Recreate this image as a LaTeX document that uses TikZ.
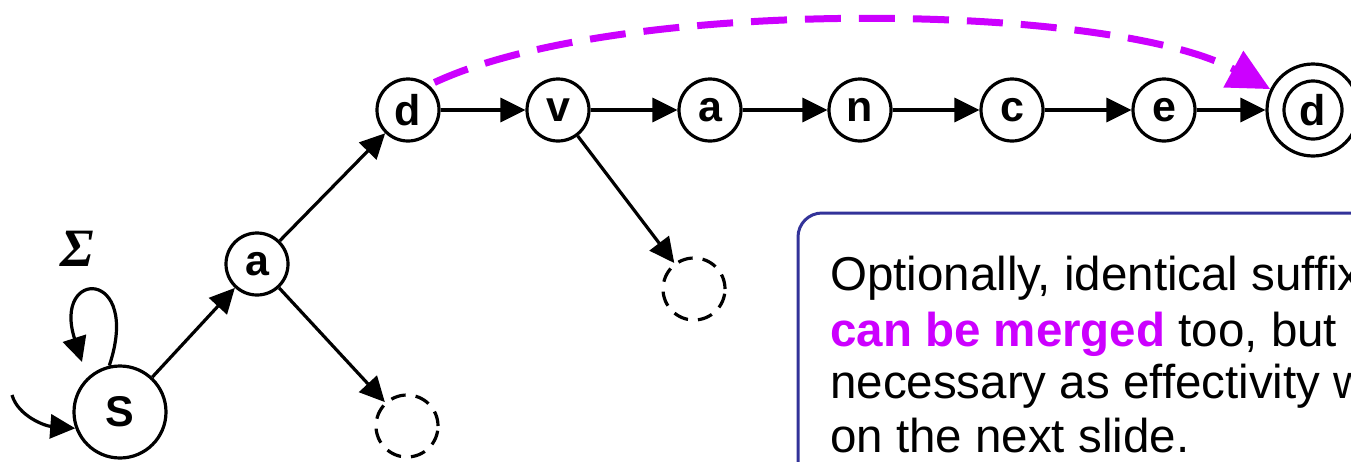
\documentclass[tikz,border=0pt]{standalone}
\usepackage{fontspec}
\setmainfont{Liberation Sans}
\newfontfamily\serifgreek{Liberation Serif}
\usetikzlibrary{arrows.meta}
\definecolor{purp}{RGB}{204,0,255}
\definecolor{boxblue}{RGB}{51,51,153}
\begin{document}
\begin{tikzpicture}[x=1pt,y=-1pt,
  st/.style={circle,draw,line width=3.2pt,minimum size=62pt,inner sep=0pt,font=\fontsize{43}{43}\selectfont\bfseries},
  big/.style={st,minimum size=92pt},
  ghost/.style={circle,draw,line width=3.2pt,dash pattern=on 15pt off 10pt,minimum size=62pt,inner sep=0pt},
  edge/.style={line width=3.2pt,-{Triangle[length=25pt,width=24pt]}},
  merge/.style={line width=7pt,purp,dash pattern=on 36pt off 18pt,-{Triangle[length=42pt,width=40pt]}},
  txt/.style={anchor=base west,inner sep=0pt,font=\fontsize{47.5}{54}\selectfont}
]
\useasboundingbox (0,0) rectangle (1351,461);
\clip (0,0) rectangle (1351,461);
\fill[white] (0,0) rectangle (1351,461);

% nodes
\node[big] (S) at (120,412) {S};
\node[st] (a1) at (257,264) {a};
\node[st] (d1) at (408,110) {d};
\node[st] (v) at (558,110) {v};
\node[st] (a2) at (710,110) {a};
\node[st] (n) at (860,110) {n};
\node[st] (c) at (1012,110) {c};
\node[st] (e) at (1164,110) {e};
\node[big] (df) at (1313,110) {d};
\draw[line width=3.2pt] (df.center) circle (29);
\node[ghost] (g1) at (407,426) {};
\node[ghost] (g2) at (694,289) {};
\node (sig) at (77,249) {\serifgreek\bfseries\itshape\fontsize{54}{54}\selectfont Σ};

\coordinate (init) at (12,395);
\coordinate (loopend) at (82,362);

% edges
\draw[edge] (init) .. controls (18,416) and (45,426) .. (S.200);
\draw[edge] (S.103) .. controls (142,268) and (52,268) .. (loopend);
\draw[edge] (S) -- (a1);
\draw[edge] (a1) -- (d1);
\draw[edge] (a1) -- (g1);
\draw[edge] (d1) -- (v);
\draw[edge] (v) -- (a2);
\draw[edge] (a2) -- (n);
\draw[edge] (n) -- (c);
\draw[edge] (c) -- (e);
\draw[edge] (e) -- (df);
\draw[edge] (v) -- (g2);
\draw[merge,shorten <=6pt] (d1.50) .. controls (620,-4) and (1110,2) .. (df.154);

% text box
\draw[boxblue,line width=3pt,rounded corners=24pt,fill=white] (798,213) rectangle (1420,540);
\node[txt] (l1) at (830,290) {Optionally, identical suffix};
\node[txt] (l2) at (830,346) {{\bfseries\color{purp}can be merged} too, but};
\node[txt] (l3) at (830,398) {necessary as effectivity w};
\node[txt] (l4) at (830,452) {on the next slide.};
\end{tikzpicture}
\end{document}
